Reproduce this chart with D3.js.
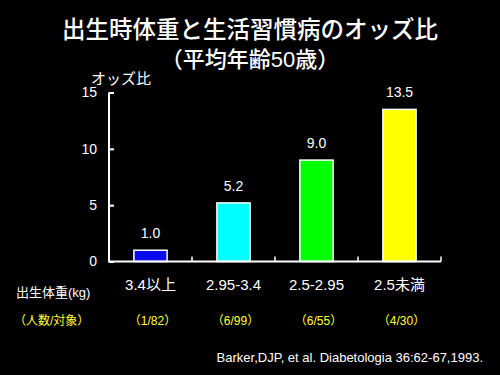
<!DOCTYPE html>
<html><head><meta charset="utf-8">
<script src="https://cdn.jsdelivr.net/npm/d3@7"></script>
<style>
html,body{margin:0;padding:0;background:#000;}
svg{display:block;font-family:"Liberation Sans","Noto Sans CJK JP",sans-serif;}
</style></head>
<body>
<svg id="c" width="500" height="375"></svg>
<script>
const categories = ["3.4以上", "2.95-3.4", "2.5-2.95", "2.5未満"];
const oddsRatios = [1.0, 5.2, 9.0, 13.5];
const valueLabels = ["1.0", "5.2", "9.0", "13.5"];
const counts = ["（1/82）", "（6/99）", "（6/55）", "（4/30）"];
const barColors = ["#0a0aee", "#00ffff", "#00ff00", "#ffff00"];
const yTicks = [0, 5, 10, 15];

const svg = d3.select("#c");
svg.append("rect").attr("width", 500).attr("height", 375).attr("fill", "#000");

const x = d3.scaleBand().domain(categories).range([109, 441]).paddingInner(0).paddingOuter(0);
const y = d3.scaleLinear().domain([0, 15]).range([261.5, 92.5]);

// title
svg.append("text").attr("x", 250).attr("y", 38).attr("text-anchor", "middle")
  .attr("fill", "#fff").attr("font-size", 23.5).attr("font-weight", 500).text("出生時体重と生活習慣病のオッズ比");
svg.append("text").attr("x", 250).attr("y", 67).attr("text-anchor", "middle")
  .attr("fill", "#fff").attr("font-size", 22).attr("font-weight", 500).text("（平均年齢50歳）");

// bars
const bw = x.bandwidth() * 0.4;
svg.selectAll("rect.bar").data(oddsRatios).enter().append("rect")
  .attr("class", "bar")
  .attr("x", (d, i) => x(categories[i]) + x.bandwidth() / 2 - bw / 2)
  .attr("y", d => y(d))
  .attr("width", bw)
  .attr("height", d => y(0) - y(d))
  .attr("fill", (d, i) => barColors[i])
  .attr("stroke", "#fff").attr("stroke-width", 1.5);

// value labels
svg.selectAll("text.val").data(oddsRatios).enter().append("text")
  .attr("class", "val")
  .attr("x", (d, i) => x(categories[i]) + x.bandwidth() / 2)
  .attr("y", d => y(d) - 12)
  .attr("text-anchor", "middle").attr("fill", "#fff").attr("font-size", 14)
  .text((d, i) => valueLabels[i]);

// y axis
const yAxis = d3.axisRight(y).tickValues(yTicks).tickSize(5).tickFormat(d3.format("d"));
const ya = svg.append("g").attr("transform", "translate(109,0)").call(yAxis);
ya.select(".domain").remove();
ya.selectAll(".tick line").attr("stroke", "#fff").attr("stroke-width", 2);
ya.selectAll(".tick text").attr("fill", "#fff").attr("font-size", 14)
  .attr("x", -12).attr("text-anchor", "end")
  .attr("font-family", "Liberation Sans, sans-serif");
svg.append("line").attr("x1", 109).attr("x2", 109).attr("y1", y(15)).attr("y2", y(0))
  .attr("stroke", "#fff").attr("stroke-width", 2);

// x axis
const bounds = [109].concat(categories.map(c => x(c) + x.bandwidth()));
svg.append("line").attr("x1", 108).attr("x2", 441).attr("y1", y(0)).attr("y2", y(0))
  .attr("stroke", "#fff").attr("stroke-width", 2);
svg.selectAll("line.xt").data(bounds.slice(1)).enter().append("line")
  .attr("class", "xt").attr("x1", d => d).attr("x2", d => d)
  .attr("y1", y(0)).attr("y2", y(0) - 5).attr("stroke", "#fff").attr("stroke-width", 1.5);

// category labels
svg.selectAll("text.cat").data(categories).enter().append("text")
  .attr("class", "cat")
  .attr("x", d => x(d) + x.bandwidth() / 2).attr("y", 290)
  .attr("text-anchor", "middle").attr("fill", "#fff").attr("font-size", 15)
  .text(d => d);

// counts
svg.selectAll("text.cnt").data(counts).enter().append("text")
  .attr("class", "cnt")
  .attr("x", (d, i) => x(categories[i]) + x.bandwidth() / 2 + 2).attr("y", 325)
  .attr("text-anchor", "middle").attr("fill", "#ffff33").attr("font-size", 12)
  .text(d => d);

// axis titles
svg.append("text").attr("x", 91).attr("y", 84).attr("fill", "#fff").attr("font-size", 15).text("オッズ比");
svg.append("text").attr("x", 16).attr("y", 297).attr("fill", "#fff").attr("font-size", 13).text("出生体重(kg)");
svg.append("text").attr("x", 14).attr("y", 325).attr("fill", "#ffff33").attr("font-size", 12).text("（人数/対象）");

// citation
svg.append("text").attr("x", 483).attr("y", 362).attr("text-anchor", "end")
  .attr("fill", "#fff").attr("font-size", 13).text("Barker,DJP, et al. Diabetologia 36:62-67,1993.");
</script>
</body></html>
